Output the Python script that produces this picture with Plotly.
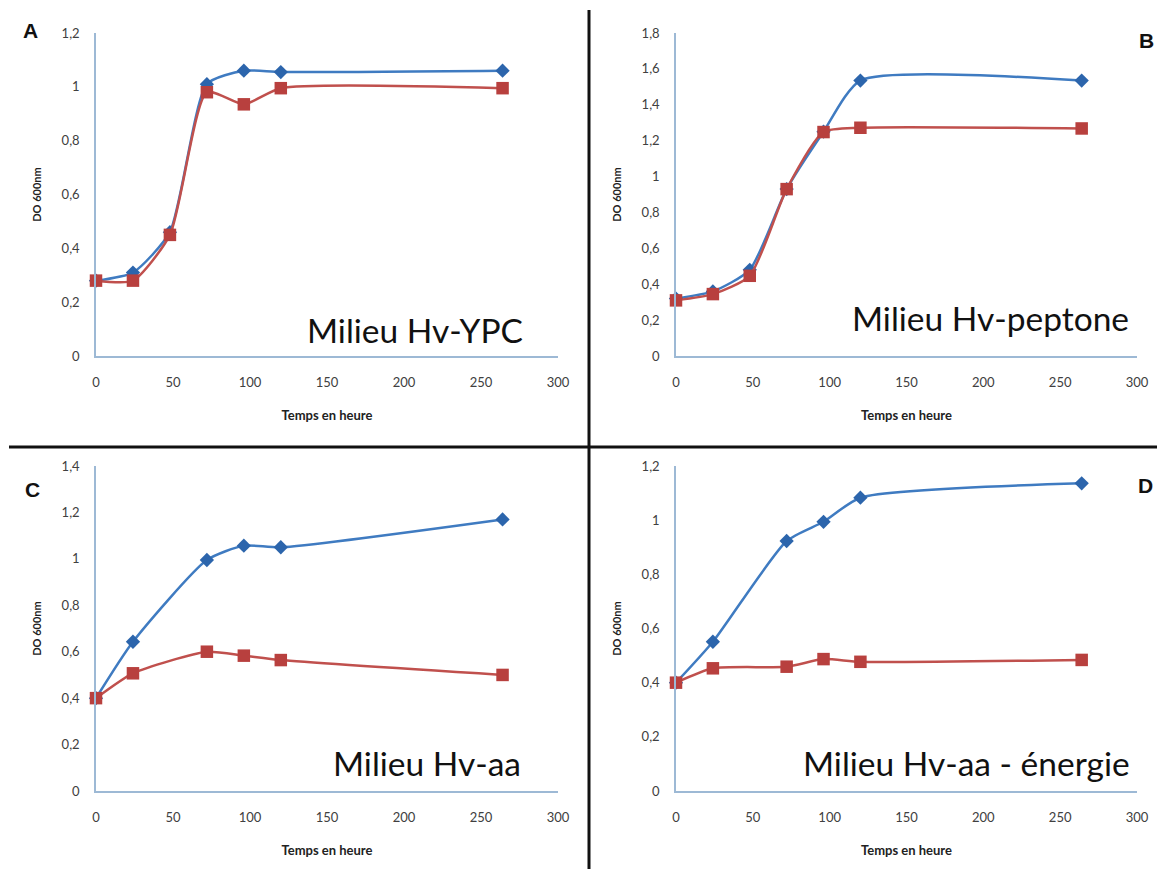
import plotly.graph_objects as go

# page body has an 8px default margin: figure is drawn slightly smaller and offset
OX, OY = 8, 8
W, H = 1165 - 2 * OX, 877 - 2 * OY

# ---- data ----
hours_ab = [0, 24, 48, 72, 96, 120, 264]
hours_cd = [0, 24, 72, 96, 120, 264]

ypc_blue = [0.28, 0.31, 0.46, 1.01, 1.06, 1.055, 1.06]
ypc_red = [0.28, 0.28, 0.45, 0.98, 0.935, 0.995, 0.995]

pep_blue = [0.32, 0.36, 0.48, 0.93, 1.25, 1.535, 1.535]
pep_red = [0.31, 0.345, 0.447, 0.93, 1.248, 1.272, 1.268]

aa_blue = [0.40, 0.643, 0.995, 1.057, 1.05, 1.17]
aa_red = [0.40, 0.507, 0.60, 0.583, 0.564, 0.50]

en_blue = [0.40, 0.551, 0.923, 0.994, 1.083, 1.136]
en_red = [0.40, 0.453, 0.459, 0.487, 0.477, 0.484]

panel_titles = ["Milieu Hv-YPC", "Milieu Hv-peptone", "Milieu Hv-aa", "Milieu Hv-aa - énergie"]
panel_letters = ["A", "B", "C", "D"]
y_max = [1.2, 1.8, 1.4, 1.2]
x_ticks = [0, 50, 100, 150, 200, 250, 300]

BLUE_LINE = "#3F7BC1"
BLUE_MK = "#2C65AC"
RED_LINE = "#C0504D"
RED_MK = "#B8403E"
AXIS_COL = "#9DB9D5"
TICK_COL = "#404040"

def px(x):
    return (x - OX) / W

def py(y):
    return 1 - (y - OY) / H

# panel boxes in page pixels: (x0, x1, ytop, ybottom)
boxes = [
    (96, 558, 33, 356),
    (676, 1137, 33, 356),
    (96, 558, 466, 791),
    (676, 1137, 466, 791),
]

series = [
    (hours_ab, ypc_blue, ypc_red),
    (hours_ab, pep_blue, pep_red),
    (hours_cd, aa_blue, aa_red),
    (hours_cd, en_blue, en_red),
]

fig = go.Figure()
layout = dict(
    width=W, height=H,
    margin=dict(l=0, r=0, t=0, b=0, autoexpand=False),
    paper_bgcolor="white", plot_bgcolor="white",
    showlegend=False,
    separators=", ",
    font=dict(family="Lato, Open Sans, sans-serif", color=TICK_COL),
)

for i, ((x0, x1, yt, yb), (xs, b, r)) in enumerate(zip(boxes, series)):
    xa = "x" if i == 0 else f"x{i+1}"
    ya = "y" if i == 0 else f"y{i+1}"
    fig.add_trace(go.Scatter(
        x=xs, y=b, xaxis=xa, yaxis=ya, mode="lines+markers",
        line=dict(color=BLUE_LINE, width=2.5, shape="spline", smoothing=0.6),
        marker=dict(symbol="diamond", size=11, color=BLUE_MK),
        name="bleu", cliponaxis=False,
    ))
    fig.add_trace(go.Scatter(
        x=xs, y=r, xaxis=xa, yaxis=ya, mode="lines+markers",
        line=dict(color=RED_LINE, width=2.5, shape="spline", smoothing=0.6),
        marker=dict(symbol="square", size=12.5, color=RED_MK),
        name="rouge", cliponaxis=False,
    ))
    xkey = "xaxis" if i == 0 else f"xaxis{i+1}"
    ykey = "yaxis" if i == 0 else f"yaxis{i+1}"
    layout[xkey] = dict(
        domain=[px(x0), px(x1)], anchor=ya, range=[0, 300],
        tickvals=x_ticks, showgrid=False, zeroline=False,
        showline=True, linecolor=AXIS_COL, linewidth=1.5,
        ticks="", ticklabelstandoff=14, automargin=False,
        tickfont=dict(size=13, color=TICK_COL),
        title=dict(text="<b>Temps en heure</b>", standoff=22,
                   font=dict(size=13, color="#222222")),
    )
    layout[ykey] = dict(
        domain=[py(yb), py(yt)], anchor=xa, range=[0, y_max[i]],
        dtick=0.2, tick0=0, showgrid=False, zeroline=False,
        showline=True, linecolor=AXIS_COL, linewidth=1.5,
        ticks="", ticklabelstandoff=12, automargin=False,
        tickfont=dict(size=13, color=TICK_COL),
        title=dict(text="<b>DO 600nm</b>", standoff=18,
                   font=dict(size=11, color="#222222")),
    )

fig.update_layout(**layout)

# panel text labels
title_pos = [(525, 330), (1131, 318), (523, 763), (1132, 763)]
for t, (xr, yc) in zip(panel_titles, title_pos):
    fig.add_annotation(x=px(xr), y=py(yc), xref="paper", yref="paper",
                       text=t, showarrow=False, xanchor="right", yanchor="middle",
                       font=dict(size=33.5, color="#111111", family="Lato, Open Sans, sans-serif"))

letter_pos = [(30, 30), (1146, 40), (32, 490), (1145, 485)]
for t, (xc, yc) in zip(panel_letters, letter_pos):
    fig.add_annotation(x=px(xc), y=py(yc), xref="paper", yref="paper",
                       text=f"<b>{t}</b>", showarrow=False, xanchor="center", yanchor="middle",
                       font=dict(size=21, color="#111111", family="Liberation Sans, Arial, sans-serif"))

# dividing lines
fig.add_shape(type="line", xref="paper", yref="paper",
              x0=px(589), x1=px(589), y0=0, y1=py(10),
              line=dict(color="#111111", width=3))
fig.add_shape(type="line", xref="paper", yref="paper",
              x0=px(9), x1=1, y0=py(447), y1=py(447),
              line=dict(color="#111111", width=3))

fig.write_html("out.html")
